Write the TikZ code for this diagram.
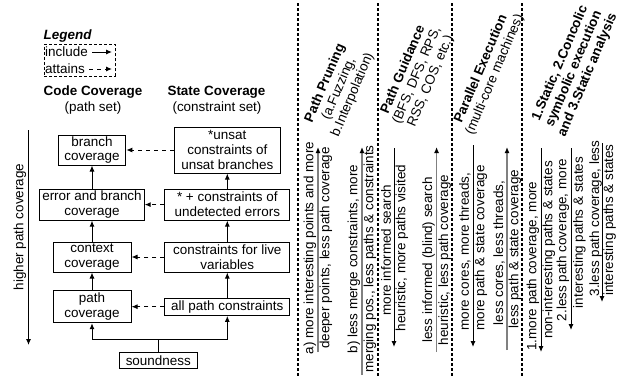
\documentclass[tikz,border=0pt]{standalone}
\usepackage{fontspec}
\setmainfont{Liberation Sans}
\usetikzlibrary{arrows.meta}
\newcommand{\diafont}{\fontsize{13.5}{15}\selectfont}

\begin{document}
\begin{tikzpicture}[x=1bp, y=-1bp, font=\diafont,
  cov node/.style={draw, align=center, inner sep=1bp, line width=1bp},
  inc/.style={-{Latex[length=6bp,width=5bp]}, line width=1bp},
  att/.style={inc, dash pattern=on 4bp off 4bp},
  sep line/.style={line width=1.3bp, dash pattern=on 3bp off 2bp},
  lbl/.style={rotate=90, inner sep=0pt},
  head/.style={rotate=67, align=center, inner sep=0pt},
  more/.style={inc},
  less/.style={-{Latex[length=6bp,width=5bp,black]}, line width=1.2bp, gray}]

\useasboundingbox (0,0) rectangle (630,381);

% legend
\node[draw, dash pattern=on 3bp off 2bp, minimum width=70.4bp, minimum height=31.7bp, inner sep=0pt] (legbox) at (79.5,60.2) {};
\node[font=\diafont\bfseries\itshape, anchor=west, inner sep=0pt] (leg) at (43.5,36) {Legend};
\node[anchor=west, inner xsep=4bp, inner ysep=0pt] (incl) at (41,52) {include};
\node[anchor=west, inner xsep=4bp, inner ysep=0pt] (attn) at (41,69) {attains};
\coordinate (inclend) at (112,52);
\coordinate (attnend) at (112,69);
\draw[inc] (incl) -- (inclend);
\draw[att] (attn) -- (attnend);

% coverage columns
\node[font=\diafont\bfseries] (cct) at (93,92.3) {Code Coverage};
\node (ccs) at (93,107.7) {(path set)};
\node[font=\diafont\bfseries] (sct) at (216.5,92.3) {State Coverage};
\node (scs) at (217,107.7) {(constraint set)};

\begin{scope}[every node/.style={cov node}]
\node[minimum width=67.6bp, minimum height=30bp] (bc) at (92,150) {branch\\coverage};
\node[minimum width=104.3bp, minimum height=31bp] (ebc) at (92,204.6) {error and branch\\coverage};
\node[minimum width=78bp, minimum height=30bp] (cc) at (92,257) {context\\coverage};
\node[minimum width=78bp, minimum height=32bp] (pc) at (92,306.7) {path\\coverage};
\node[minimum width=77.5bp, minimum height=15.6bp] (snd) at (158.3,360.5) {soundness};
\node[minimum width=106.5bp, minimum height=46bp] (unsat) at (227.3,150) {*unsat\\constraints of\\unsat branches};
\node[minimum width=124.7bp, minimum height=31bp] (und) at (227.3,204.6) {* + constraints of\\undetected errors};
\node[minimum width=124.7bp, minimum height=30bp] (live) at (227.3,257) {constraints for live\\variables};
\node[minimum width=124.7bp, minimum height=17.4bp] (apc) at (227.3,306.7) {all path constraints};
\end{scope}

\draw[inc] (pc) -- (cc);
\draw[inc] (cc) -- (ebc);
\draw[inc] (ebc) -- (bc);
\draw[inc] (apc) -- (live);
\draw[inc] (live) -- (und);
\draw[inc] (und) -- (unsat);
\draw[att] (unsat) -- (bc);
\draw[att] (und) -- (ebc);
\draw[att] (live) -- (cc);
\draw[att] (apc) -- (pc);
\coordinate (split) at (158.3,339);
\draw[line width=1bp] (snd) -- (split);
\draw[inc] (split) -| (pc);
\draw[inc] (split) -| (apc);

\node[lbl] (hpc) at (20,227) {higher path coverage};
\coordinate (hptop) at (28.5,130);
\coordinate (hpbot) at (28.5,345);
\draw[inc] (hptop) -- (hpbot);

% technique columns
\foreach \x in {298,378,452,522}
  \draw[sep line] (\x,3) -- (\x,378);

\node[head] (pph) at (339,89) {\textbf{Path Pruning}\\(a.Fuzzing,\\b.Interpolation)};
\node[head] (pgh) at (417,75.5) {\textbf{Path Guidance}\\(BFS, DFS, RPS,\\RSS, COS, etc.)};
\node[head] (peh) at (488,72) {\textbf{Parallel Execution}\\(multi-core machines)};
\node[head, font=\diafont\bfseries] (sah) at (574,69) {1.Static, 2.Concolic\\symbolic execution\\and 3.Static analysis};

\node[lbl] (ppa1) at (310,248) {a) more interesting points and more};
\node[lbl] (ppa2) at (326,248) {deeper points, less path coverage};
\coordinate (ppas) at (318,352);
\coordinate (ppae) at (318,147);
\draw[less] (ppas) -- (ppae);

\node[lbl] (ppb1) at (354,259) {b) less merge constraints, more};
\node[lbl] (ppb2) at (370,259) {merging pos., less paths \& constraints};
\coordinate (ppbs) at (362,375);
\coordinate (ppbe) at (362,147);
\draw[less] (ppbs) -- (ppbe);

\node[lbl] (pga1) at (386,250) {more informed search};
\node[lbl] (pga2) at (402,248) {heuristic, more paths visited};
\coordinate (pgas) at (394,148);
\coordinate (pgae) at (394,347);
\draw[more] (pgas) -- (pgae);

\node[lbl] (pgb1) at (428.6,260) {less informed (blind) search};
\node[lbl] (pgb2) at (444.7,260) {heuristic, less path coverage};
\coordinate (pgbs) at (436.6,352);
\coordinate (pgbe) at (436.6,147);
\draw[less] (pgbs) -- (pgbe);

\node[lbl] (pea1) at (464.8,251.5) {more cores, more threads,};
\node[lbl] (pea2) at (481,248) {more path \& state coverage};
\coordinate (peas) at (473,145);
\coordinate (peae) at (473,347);
\draw[more] (peas) -- (peae);

\node[lbl] (peb1) at (499,253) {less cores, less threads,};
\node[lbl] (peb2) at (515,249) {less path \& state coverage};
\coordinate (pebs) at (507,350);
\coordinate (pebe) at (507,147);
\draw[less] (pebs) -- (pebe);

\node[lbl] (saa1) at (533,266) {1.more path coverage, more};
\node[lbl] (saa2) at (549,250) {non-interesting paths \& states};
\coordinate (saas) at (541,148);
\coordinate (saae) at (541,352);
\draw[more] (saas) -- (saae);

\node[lbl] (sab1) at (563,240) {2.less path coverage, more};
\node[lbl] (sab2) at (579.5,232.5) {interesting paths \& states};
\coordinate (sabs) at (571,148);
\coordinate (sabe) at (571,330);
\draw[more] (sabs) -- (sabe);

\node[lbl] (sac1) at (595.6,218.5) {3.less path coverage, less};
\node[lbl] (sac2) at (609.7,220) {interesting paths \& states};
\coordinate (sacs) at (602,143);
\coordinate (sace) at (602,302);
\draw[more] (sacs) -- (sace);
\end{tikzpicture}
\end{document}
